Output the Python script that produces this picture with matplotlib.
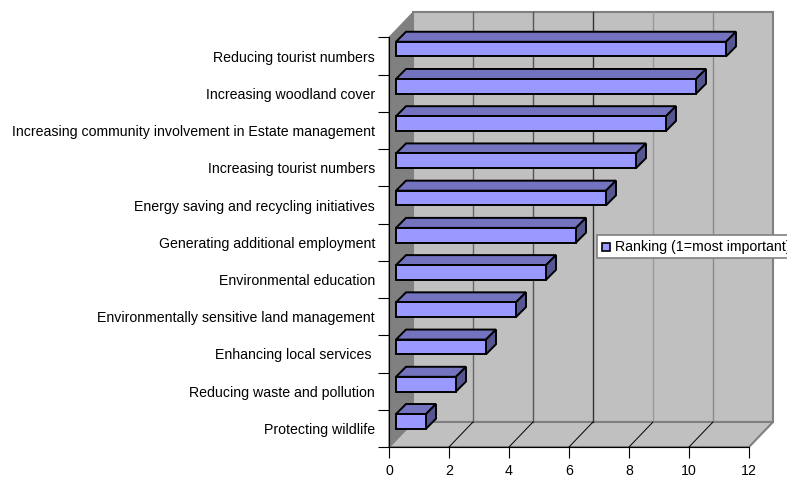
""" Ranking of estate management priorities drawn as a fake 3D horizontal bar chart """
import matplotlib
matplotlib.use("Agg")
import matplotlib.pyplot as plt
from matplotlib.patches import Polygon, Rectangle

plt.rcParams['font.family'] = ['Liberation Sans', 'DejaVu Sans']

# Data, bottom row first
categories = ['Protecting wildlife', 'Reducing waste and pollution', 'Enhancing local services ',
              'Environmentally sensitive land management', 'Environmental education',
              'Generating additional employment', 'Energy saving and recycling initiatives',
              'Increasing tourist numbers', 'Increasing community involvement in Estate management',
              'Increasing woodland cover', 'Reducing tourist numbers']
ranking = [1, 2, 3, 4, 5, 6, 7, 8, 9, 10, 11]
x_ticks = [0, 2, 4, 6, 8, 10, 12]
legend_label = 'Ranking (1=most important)'

# Colours
WALL = '#c0c0c0'
SIDE_WALL = '#808080'
BAR_FRONT = '#9999ff'
BAR_TOP = '#7373bf'
BAR_SIDE = '#55558f'
GRID = ['#666666', '#555555', '#333333', '#999999', '#8a8a8a']

W, H = 787, 479
fig = plt.figure(figsize=(W / 100, H / 100), dpi=100)
ax = fig.add_axes([389 / W, (H - 447) / H, 360 / W, 409.5 / H])
ax.set_xlim(0, 12)
ax.set_ylim(-0.5, 10.5)
for side in ['top', 'right']:
    ax.spines[side].set_visible(False)
ax.patch.set_visible(False)

# Depth of the box and of the bars, in data units
ux = 1 / 30
uy = 1 / 37.2
box_dx, box_dy = 24 * ux, 25 * uy
bar_dx, bar_dy = 10 * ux, 10 * uy
bar_off_x, bar_off_y = 7 * ux, 7 * uy
bar_h = 14.7 * uy
y0, y1 = -0.5, 10.5


def face(points, color, edge, lw=1.0, z=1):
    ax.add_patch(Polygon(points, closed=True, facecolor=color, edgecolor=edge, linewidth=lw,
                         clip_on=False, zorder=z, joinstyle='miter'))


# Walls and floor
face([(0, y0), (box_dx, y0 + box_dy), (box_dx, y1 + box_dy), (0, y1)], SIDE_WALL, SIDE_WALL)
face([(box_dx, y0 + box_dy), (12 + box_dx, y0 + box_dy), (12 + box_dx, y1 + box_dy), (box_dx, y1 + box_dy)],
     WALL, SIDE_WALL, lw=1.5)
face([(0, y0), (12, y0), (12 + box_dx, y0 + box_dy), (box_dx, y0 + box_dy)], WALL, SIDE_WALL, lw=1.5)

# Gridlines on the back wall and floor
for t, col in zip(x_ticks[1:-1], GRID):
    ax.plot([t + box_dx, t + box_dx], [y0 + box_dy, y1 + box_dy], color=col, lw=1.0, clip_on=False, zorder=2)
    ax.plot([t, t + box_dx], [y0, y0 + box_dy], color='black', lw=0.7, clip_on=False, zorder=2)

# Bars, back to front
for i in reversed(range(len(ranking))):
    left = bar_off_x
    right = bar_off_x + ranking[i]
    bottom = i + bar_off_y - bar_h / 2
    top = i + bar_off_y + bar_h / 2
    face([(left, top), (right, top), (right + bar_dx, top + bar_dy), (left + bar_dx, top + bar_dy)],
         BAR_TOP, 'black', lw=1.4, z=3)
    face([(right, bottom), (right + bar_dx, bottom + bar_dy), (right + bar_dx, top + bar_dy), (right, top)],
         BAR_SIDE, 'black', lw=1.4, z=3)
    face([(left, bottom), (right, bottom), (right, top), (left, top)], BAR_FRONT, 'black', lw=1.4, z=3)

# Axes
ax.set_xticks(x_ticks)
ax.set_yticks([i - 0.5 for i in range(len(categories) + 1)])
ax.set_yticklabels([])
ax.set_yticks(range(len(categories)), minor=True)
ax.set_yticklabels(categories, minor=True)
ax.tick_params(axis='y', which='major', length=8, width=0.8)
ax.tick_params(axis='y', which='minor', length=0, pad=10, labelsize=10.2, colors='black')
ax.tick_params(axis='x', length=8, width=0.8, pad=4.5, labelsize=10.2)

# Legend runs off the right edge of the image
fig.add_artist(Rectangle((597 / W, (H - 258) / H), 260 / W, 23 / H, transform=fig.transFigure,
                         facecolor='white', edgecolor='#808080', linewidth=1.2))
fig.add_artist(Rectangle((602 / W, (H - 251) / H), 8 / W, 8 / H, transform=fig.transFigure,
                         facecolor=BAR_FRONT, edgecolor='black', linewidth=1.2))
fig.text(615 / W, (H - 247) / H, legend_label, fontsize=10.2, va='center', ha='left')

fig.savefig('out.png', dpi=100)
